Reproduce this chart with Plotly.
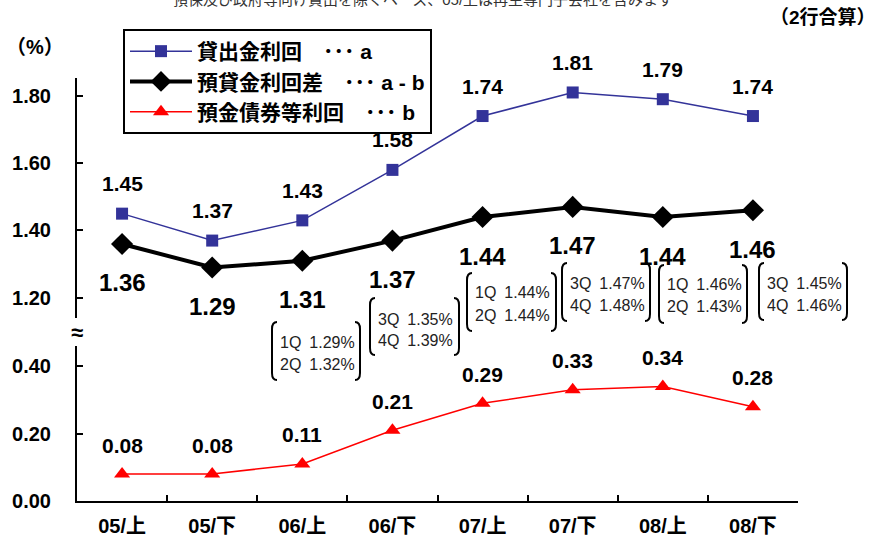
import plotly.graph_objects as go

# ---- data ----
categories = ["05/上", "05/下", "06/上", "06/下", "07/上", "07/下", "08/上", "08/下"]
loan_yield = [1.45, 1.37, 1.43, 1.58, 1.74, 1.81, 1.79, 1.74]          # a
spread = [1.36, 1.29, 1.31, 1.37, 1.44, 1.47, 1.44, 1.46]              # a - b
deposit_cost = [0.08, 0.08, 0.11, 0.21, 0.29, 0.33, 0.34, 0.28]        # b

q_names = [["1Q", "2Q"], ["3Q", "4Q"], ["1Q", "2Q"], ["3Q", "4Q"], ["1Q", "2Q"], ["3Q", "4Q"]]
q_values = [[1.29, 1.32], [1.35, 1.39], [1.44, 1.44], [1.47, 1.48], [1.46, 1.43], [1.45, 1.46]]

lower_ticks = [0.0, 0.2, 0.4]
upper_ticks = [1.2, 1.4, 1.6, 1.8]

series_names = ["貸出金利回　･･･ a", "預貸金利回差　･･･ a - b", "預金債券等利回　･･･ b"]

# ---- layout constants ----
W, H = 878, 538
L, R, T, B = 77, 80, 78, 37
PW, PH = W - L - R, H - T - B

def px2x(px):
    return (px - L) / PW

def px2y(py):
    return (H - B - py) / PH

FONT = "Liberation Sans, Arial, Noto Sans CJK JP"
BLUE = "#333399"
RED = "#FF0000"

fig = go.Figure()
fig.add_trace(go.Scatter(
    x=categories, y=loan_yield, yaxis="y2", name=series_names[0],
    mode="lines+markers", line=dict(color=BLUE, width=1.5),
    marker=dict(symbol="square", size=12, color=BLUE)))
fig.add_trace(go.Scatter(
    x=categories, y=spread, yaxis="y2", name=series_names[1],
    mode="lines+markers", line=dict(color="black", width=4),
    marker=dict(symbol="diamond", size=17, color="black")))
fig.add_trace(go.Scatter(
    x=categories, y=deposit_cost, yaxis="y", name=series_names[2],
    mode="lines+markers", line=dict(color=RED, width=1.5),
    marker=dict(symbol="triangle-up", size=14, color=RED)))

ann = []
for c, v in zip(categories, loan_yield):
    ann.append(dict(x=c, y=v, xref="x", yref="y2", text=f"{v:.2f}", showarrow=False,
                    yshift=30, font=dict(size=21, weight="bold", color="black", family=FONT)))
for c, v in zip(categories, spread):
    ann.append(dict(x=c, y=v, xref="x", yref="y2", text=f"{v:.2f}", showarrow=False,
                    yshift=-39, font=dict(size=24, weight="bold", color="black", family=FONT)))
for c, v in zip(categories, deposit_cost):
    ann.append(dict(x=c, y=v, xref="x", yref="y", text=f"{v:.2f}", showarrow=False,
                    yshift=29, font=dict(size=21, weight="bold", color="black", family=FONT)))

# quarterly boxes (pixel geometry: left, right, top, bottom, line1 y, line2 y)
boxes = [(272, 360, 322, 380, 342, 364),
         (370, 459, 298, 355, 319, 340),
         (467, 556, 273, 331, 292, 315),
         (562, 650, 263, 321, 283, 305),
         (659, 747, 265, 323, 284, 306),
         (759, 847, 263, 320, 283, 305)]
shapes = []
for (x0, x1, y0, y1, l1, l2), names, vals in zip(boxes, q_names, q_values):
    for ly, n, v in zip((l1, l2), names, vals):
        ann.append(dict(x=px2x(x0 + 6), y=px2y(ly), xref="paper", yref="paper",
                        xanchor="left", yanchor="middle",
                        text=f"{n}\u2002{v:.2f}%", showarrow=False,
                        font=dict(size=16, color="#222222", family=FONT)))
    r = 7
    d = 5
    left = (f"M {px2x(x0 + d)},{px2y(y0)} Q {px2x(x0)},{px2y(y0)} {px2x(x0)},{px2y(y0 + r)} "
            f"L {px2x(x0)},{px2y(y1 - r)} Q {px2x(x0)},{px2y(y1)} {px2x(x0 + d)},{px2y(y1)}")
    right = (f"M {px2x(x1 - d)},{px2y(y0)} Q {px2x(x1)},{px2y(y0)} {px2x(x1)},{px2y(y0 + r)} "
             f"L {px2x(x1)},{px2y(y1 - r)} Q {px2x(x1)},{px2y(y1)} {px2x(x1 - d)},{px2y(y1)}")
    for p in (left, right):
        shapes.append(dict(type="path", path=p, xref="paper", yref="paper",
                           line=dict(color="black", width=2)))

ann.append(dict(x=px2x(35), y=px2y(47), xref="paper", yref="paper", text="（%）",
                xanchor="center", yanchor="middle",
                showarrow=False, font=dict(size=20, weight="bold", color="black", family=FONT)))
ann.append(dict(x=px2x(878), y=px2y(17), xref="paper", yref="paper", text="（2行合算）",
                xanchor="right", yanchor="middle", showarrow=False,
                font=dict(size=19, weight="bold", color="black", family=FONT)))
ann.append(dict(x=px2x(423), y=px2y(-1), xref="paper", yref="paper",
                xanchor="center", yanchor="middle",
                text="預保及び政府等向け貸出を除くベース、05/上は再生専門子会社を含みます",
                showarrow=False, font=dict(size=15, color="#333333", family=FONT)))
ann.append(dict(x=px2x(77), y=px2y(332), xref="paper", yref="paper", text="≈",
                xanchor="center", yanchor="middle",
                showarrow=False, font=dict(size=22, weight="bold", color="black", family=FONT)))

axis_common = dict(showline=True, linecolor="black", linewidth=2, ticks="inside", ticklen=6,
                   tickcolor="black", tickwidth=1.5, showgrid=False, zeroline=False,
                   tickfont=dict(size=20, weight="bold", color="black", family=FONT),
                   ticklabelstandoff=20, automargin=False)

fig.update_layout(
    width=W, height=H, margin=dict(l=L, r=R, t=T, b=B, autoexpand=False),
    paper_bgcolor="white", plot_bgcolor="white",
    font=dict(family=FONT, color="black"),
    xaxis=dict(type="category", range=[-0.5, 7.5], showline=True, linecolor="black", linewidth=2,
               ticks="inside", ticklen=6, tickcolor="black", tickwidth=1.5, tickson="boundaries",
               showgrid=False, zeroline=False, anchor="y", automargin=False,
               tickfont=dict(size=20, weight="bold", color="black", family=FONT),
               ticklabelstandoff=6),
    yaxis=dict(domain=[0, px2y(346)], range=[0, 0.46], tickvals=lower_ticks,
               ticktext=[f"{t:.2f}" for t in lower_ticks], anchor="x", **axis_common),
    yaxis2=dict(domain=[px2y(318), 1], range=[1.14, 1.853], tickvals=upper_ticks,
                ticktext=[f"{t:.2f}" for t in upper_ticks], anchor="x", **axis_common),
    legend=dict(xref="container", yref="container", x=123 / W, y=1 - 29 / H,
                xanchor="left", yanchor="top", itemwidth=62,
                bordercolor="black", borderwidth=2, bgcolor="white",
                font=dict(size=21, weight="bold", color="black", family=FONT)),
    annotations=ann, shapes=shapes,
)

fig.write_html("out.html")
